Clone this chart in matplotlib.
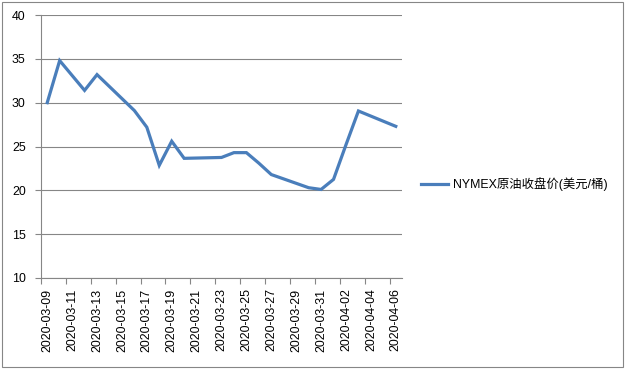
import matplotlib.pyplot as plt
import matplotlib.dates as mdates
import numpy as np
import pandas as pd
from matplotlib.patches import Rectangle

# 交易日与收盘价
dates = ['2020-03-09', '2020-03-10', '2020-03-11', '2020-03-12', '2020-03-13',
         '2020-03-16', '2020-03-17', '2020-03-18', '2020-03-19', '2020-03-20',
         '2020-03-23', '2020-03-24', '2020-03-25', '2020-03-26', '2020-03-27',
         '2020-03-30', '2020-03-31', '2020-04-01', '2020-04-02', '2020-04-03',
         '2020-04-06']
prices = [30.0, 34.8, 33.1, 31.4, 33.2,
          29.1, 27.2, 22.85, 25.6, 23.65,
          23.75, 24.3, 24.3, 23.1, 21.8,
          20.3, 20.1, 21.25, 25.2, 29.05,
          27.3]
series_name = 'NYMEX原油收盘价(美元/桶)'

plt.rcParams['font.family'] = ['Liberation Sans', 'Noto Sans CJK SC', 'DejaVu Sans']
plt.rcParams['font.size'] = 8.9

gray = '#868686'
x = pd.to_datetime(dates)
start, end = x[0], x[-1]
half = pd.Timedelta(hours=12)

fig = plt.figure(figsize=(6.26, 3.69), dpi=100)
ax = fig.add_axes([41 / 626, 1 - 278 / 369, 361 / 626, 263 / 369])

line, = ax.plot(x, prices, color='#4a7ebb', lw=2.3, solid_joinstyle='miter',
                label=series_name)

ax.set_ylim(10, 40)
ax.set_yticks(np.arange(10, 41, 5))
ax.set_xlim(start - half, end + half)

# 刻度线在日期边界, 标签在日期中间
label_days = pd.date_range(start, end, freq='2D')
ax.set_xticks(label_days - half)
ax.set_xticklabels([])
ax.set_xticks(label_days, minor=True)
ax.set_xticklabels([d.strftime('%Y-%m-%d') for d in label_days], minor=True,
                   rotation=90, va='top', ha='center')
ax.tick_params(axis='x', which='major', length=4, color=gray, direction='out')
ax.tick_params(axis='x', which='minor', length=0, pad=7.5)
ax.tick_params(axis='y', length=4, color=gray, pad=7)

ax.grid(axis='y', color=gray, lw=0.8)
ax.set_axisbelow(True)
for s in ['top', 'right']:
    ax.spines[s].set_visible(False)
for s in ['left', 'bottom']:
    ax.spines[s].set_color(gray)
    ax.spines[s].set_linewidth(0.8)

fig.legend(handles=[line], loc='center left',
           bbox_to_anchor=(421 / 626, 1 - 184 / 369), frameon=False,
           borderpad=0, borderaxespad=0, handlelength=2.2, handletextpad=0.35)

fig.patches.append(Rectangle((1.5 / 626, 2.5 / 369), 621 / 626, 365 / 369,
                             transform=fig.transFigure, fill=False,
                             edgecolor=gray, lw=0.8))

fig.savefig('out.png', dpi=100)
